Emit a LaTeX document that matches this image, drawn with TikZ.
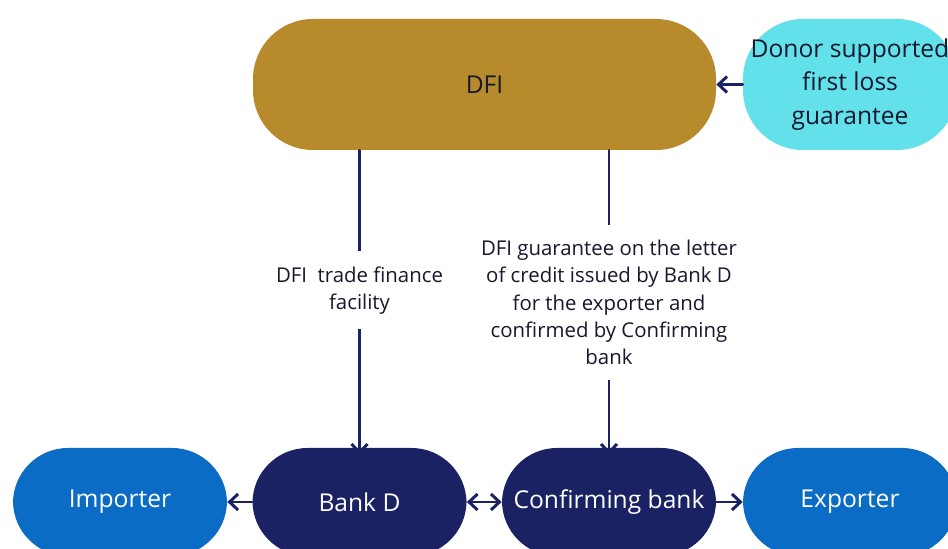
\documentclass[tikz,border=0pt]{standalone}
\usepackage{fontspec}
\setmainfont{Open Sans}
\usetikzlibrary{arrows.meta}
\definecolor{dfigold}{HTML}{B78A2B}
\definecolor{donorcyan}{HTML}{63E1EA}
\definecolor{tradeblue}{HTML}{0B6CC5}
\definecolor{banknavy}{HTML}{1B2263}
\definecolor{textdark}{HTML}{16182E}
\begin{document}
\begin{tikzpicture}[>={Straight Barb[length=1.7mm,width=3.2mm]},
pill/.style={rectangle,rounded corners=1.1cm,minimum width=4.28cm,minimum height=2.16cm,inner sep=0pt,font=\fontsize{14}{19}\selectfont,align=center},
bigpill/.style={pill,minimum height=2.62cm,rounded corners=1.2cm},
link/.style={draw=banknavy,line width=1.7pt,line cap=round,line join=round},
flowlabel/.style={fill=white,align=center,inner xsep=2pt,inner ysep=0.3cm,font=\fontsize{11.6}{15.5}\selectfont,text=textdark}]

\useasboundingbox (0,0) rectangle (18.96,-10.98);
\clip (0,0) rectangle (18.96,-10.98);

% top row
\draw (9.69,-1.69) node[bigpill,fill=dfigold,minimum width=9.26cm,text=textdark] (dfi) {DFI};
\draw (17.0,-1.69) node[bigpill,fill=donorcyan,text=textdark] (donor) {Donor supported\\first loss\\guarantee};

% bottom row
\draw (2.4,-10.04) node[pill,fill=tradeblue,text=white] (importer) {Importer};
\draw (7.19,-10.04) node[pill,fill=banknavy,text=white] (bankd) {Bank D};
\draw (12.18,-10.04) node[pill,fill=banknavy,text=white] (confirm) {Confirming bank};
\draw (17.0,-10.04) node[pill,fill=tradeblue,text=white] (exporter) {Exporter};

% connectors
\draw[link,->] (donor.west) -- (dfi.east);
\draw[link,->] (bankd.west) -- (importer.west -| importer.east);
\draw[link,<->] (bankd.east) -- (confirm.west);
\draw[link,->] (confirm.east) -- (exporter.west);
\draw[link,->] (dfi.south -| bankd.north) -- node[flowlabel,pos=.46] {DFI~~trade finance\\facility} ([yshift=-4pt]bankd.north);
\draw[link,->] (dfi.south -| confirm.north) -- node[flowlabel,pos=.5] {DFI guarantee on the letter\\of credit issued by Bank D\\for the exporter and\\confirmed by Confirming\\bank} ([yshift=-4pt]confirm.north);

\end{tikzpicture}
\end{document}
